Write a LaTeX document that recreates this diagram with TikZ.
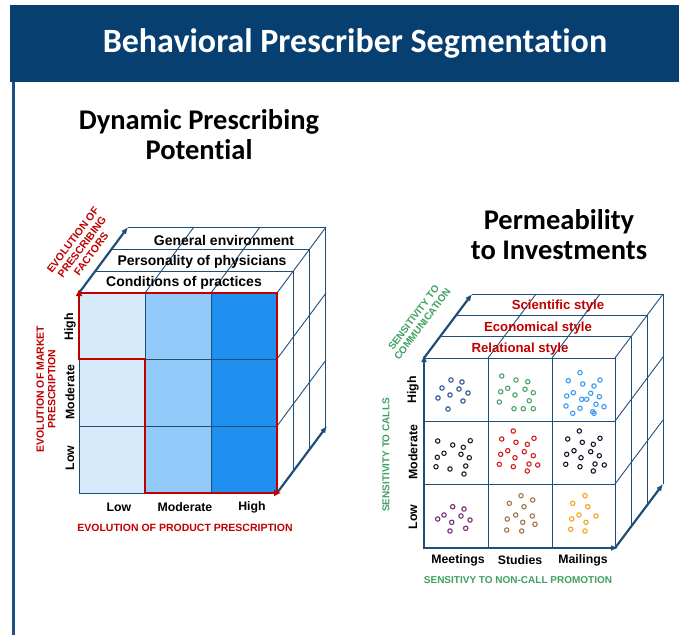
\documentclass[tikz,border=0pt]{standalone}
\usepackage{fontspec}
\setmainfont{Liberation Sans}
\newfontfamily\headfont[Ligatures=NoCommon]{Carlito}
\usepackage{xcolor}
\usetikzlibrary{arrows.meta}

\definecolor{headblue}{HTML}{073F70}
\definecolor{bordblue}{HTML}{1D5287}
\definecolor{navy}{HTML}{1F4E79}
\definecolor{redc}{HTML}{C00000}
\definecolor{greenc}{HTML}{3FA060}
\definecolor{cellA}{HTML}{D6EAFC}
\definecolor{cellB}{HTML}{92CBFA}
\definecolor{cellC}{HTML}{1F90F0}
\definecolor{dotA}{HTML}{2F5597}
\definecolor{dotB}{HTML}{4EA56C}
\definecolor{dotC}{HTML}{3D9BF0}
\definecolor{dotD}{HTML}{222222}
\definecolor{dotE}{HTML}{D42020}
\definecolor{dotF}{HTML}{1A1A2E}
\definecolor{dotG}{HTML}{7B2C7B}
\definecolor{dotH}{HTML}{A0784A}
\definecolor{dotI}{HTML}{F5A623}

\begin{document}
\begin{tikzpicture}[x=1pt,y=-1pt,
  every node/.style={inner sep=0pt, font=\bfseries\fontsize{12.3}{12.3}\selectfont},
  gridline/.style={navy, line width=0.9pt},
  axis/.style={navy, line width=2.2pt, -{Latex[length=7pt,width=6pt]}},
  redline/.style={redc, line width=2.4pt},
  layer/.style={font=\bfseries\fontsize{14}{14}\selectfont},
  redlayer/.style={font=\bfseries\fontsize{13.2}{13.2}\selectfont, text=redc},
  axlbl/.style={font=\bfseries\fontsize{10.5}{11.5}\selectfont, align=center},
  grnlbl/.style={font=\bfseries\fontsize{10}{11}\selectfont, align=center, text=greenc},
  dot/.style={line width=1.1pt}]
\useasboundingbox (0,0) rectangle (679,635);

% header band
\fill[headblue] (10,5) rectangle (679,82);
\draw[bordblue, line width=3pt] (13,82) -- (13,635);
\node[text=white, font=\headfont\bfseries\fontsize{34}{34}\selectfont] (title) at (355,43) {Behavioral Prescriber Segmentation};
\node[font=\headfont\bfseries\fontsize{28.5}{30}\selectfont, align=center] (dynhead) at (199,135) {Dynamic Prescribing\\Potential};
\node[font=\headfont\bfseries\fontsize{28.5}{30}\selectfont, align=center] (permhead) at (559,235) {Permeability\\to Investments};

% ---- left cube: dynamic prescribing potential
\fill[cellA] (79,293) rectangle (145,493);
\fill[cellB] (145,293) rectangle (211,493);
\fill[cellC] (211,293) rectangle (277,493);
\draw[gridline] (79,293) rectangle (277,493);
\foreach \x in {145,211} \draw[gridline] (\x,293) -- (\x,493);
\foreach \y in {359,426} \draw[gridline] (79,\y) -- (277,\y);
% top face
\foreach \k in {1,2,3} \draw[gridline] (79+16.3*\k,293-22*\k) -- (277+16.3*\k,293-22*\k);
\foreach \x in {145,211,277} \draw[gridline] (\x,293) -- ++(49,-66);
% right face
\foreach \k in {1,2,3} \draw[gridline] (277+16.3*\k,293-22*\k) -- (277+16.3*\k,493-22*\k);
\foreach \y in {359,426} \draw[gridline] (277,\y) -- ++(49,-66);
\draw[axis] (79,293) -- ++(49,-66);
\draw[axis] (277,493) -- ++(50,-67);
% red frontier
\draw[redline] (79,293) -- (277,293) -- (277,493);
\draw[redline, {Latex[length=7pt,width=7pt]}-{Latex[length=7pt,width=7pt]}] (79,289) -- (79,359) -- (145,359) -- (145,493) -- (281,493);

\node[layer] (general) at (224,240) {General environment};
\node[layer] (personal) at (202,262) {Personality of physicians};
\node[layer] (conditions) at (184,283) {Conditions of practices};

\node (lowX) at (119,507) {Low};
\node (modX) at (185,507) {Moderate};
\node (highX) at (252,507) {High};
\node[rotate=90] (highY) at (70,327) {High};
\node[rotate=90] (modY) at (70,392) {Moderate};
\node[rotate=90] (lowY) at (70,458) {Low};

\node[axlbl, text=redc] (prodaxis) at (185,528) {EVOLUTION OF PRODUCT PRESCRIPTION};
\node[axlbl, text=redc, rotate=90] (marketaxis) at (46,389) {EVOLUTION OF MARKET\\PRESCRIPTION};
\node[axlbl, text=redc, rotate=53] (factaxis) at (82,247) {EVOLUTION OF\\PRESCRIBING\\FACTORS};

% ---- right cube: permeability to investments
\draw[gridline] (424,358) rectangle (615,548);
\foreach \x in {488,552} \draw[gridline] (\x,358) -- (\x,548);
\foreach \y in {421,484} \draw[gridline] (424,\y) -- (615,\y);
% top face
\foreach \k in {1,2,3} \draw[gridline] (424+16*\k,358-21.3*\k) -- (615+16*\k,358-21.3*\k);
\foreach \x in {488,552,615} \draw[gridline] (\x,358) -- ++(48,-64);
% right face
\foreach \k in {1,2,3} \draw[gridline] (615+16*\k,358-21.3*\k) -- (615+16*\k,548-21.3*\k);
\foreach \y in {421,484} \draw[gridline] (615,\y) -- ++(48,-64);
\draw[axis] (424,549) -- (424,355);
\draw[axis] (423,548) -- (618,548);
\draw[axis] (424,358) -- ++(48,-64);
\draw[axis] (615,548) -- ++(48,-64);

\node[redlayer] (scient) at (558,306) {Scientific style};
\node[redlayer] (econ) at (538,328) {Economical style};
\node[redlayer] (relat) at (520,349) {Relational style};

\node (meet) at (458,560) {Meetings};
\node (stud) at (520,560) {Studies};
\node (mail) at (583,560) {Mailings};
\node[rotate=90] (highR) at (413,390) {High};
\node[rotate=90] (modR) at (413,452) {Moderate};
\node[rotate=90] (lowR) at (413,517) {Low};

\node[grnlbl] (noncall) at (518,580) {SENSITIVY TO NON-CALL PROMOTION};
\node[grnlbl, rotate=90] (calls) at (386,455) {SENSITIVITY TO CALLS};
\node[grnlbl, rotate=53] (commun) at (418,321) {SENSITIVITY TO\\COMMUNICATION};

% dots, high row
\begin{scope}[shift={(424,358)}, dotA]
  \foreach \p in {(27,22),(38,24),(18,30),(35,31),(26,37),(44,35),(14,40),(39,43),(24,51)}
    \draw[dot] \p circle (2.2pt);
\end{scope}
\begin{scope}[shift={(488,358)}, dotB]
  \foreach \p in {(13.7,18),(28,22),(39.7,23.7),(19.7,30.3),(12.7,33.7),(37,31.3),(27,37),(45.3,34.7),(11.3,44),(41.3,42.7),(26,50.7),(35.3,50.7),(45.3,50.7)}
    \draw[dot] \p circle (2.2pt);
\end{scope}
\begin{scope}[shift={(552,358)}, dotC]
  \foreach \p in {(28,14.7),(16.3,22.7),(30.7,26),(48,22),(42,28),(21.3,34.7),(38.7,35.3),(14.7,38),(29.7,41.3),(34.7,41.3),(47.3,38.7),(44,46.3),(14,48),(28,50.3),(52,48.7),(20.7,55.3),(40.7,53.7),(42,55.3)}
    \draw[dot] \p circle (2.2pt);
\end{scope}
% dots, moderate row
\begin{scope}[shift={(424,421)}, dotD]
  \foreach \p in {(13.7,20),(28.7,24),(46.3,19.7),(39.3,26.3),(20,32.3),(13.3,36.3),(37,33.3),(45.3,36.7),(12,45.7),(26,48),(41.7,45),(40,53)}
    \draw[dot] \p circle (2.2pt);
\end{scope}
\begin{scope}[shift={(488,421)}, dotE]
  \foreach \p in {(25.3,10),(13.7,18),(28,21.3),(39.3,23.3),(46,17.3),(19.7,29.7),(12.7,33.3),(36.3,30.7),(27,36.7),(45.3,34.7),(11.3,43.3),(25.3,45.7),(41,43),(49.7,44),(39.3,50)}
    \draw[dot] \p circle (2.2pt);
\end{scope}
\begin{scope}[shift={(552,421)}, dotF]
  \foreach \p in {(27.3,10),(15.7,18),(30.3,21.3),(41.3,23.3),(48,17.3),(22,29.7),(14.7,33.3),(38.7,30.7),(29,36.7),(47.3,34.7),(13.7,43.3),(28,45.7),(43,43),(52.3,44),(41.3,50)}
    \draw[dot] \p circle (2.2pt);
\end{scope}
% dots, low row
\begin{scope}[shift={(424,484)}, dotG]
  \foreach \p in {(28.7,22.7),(40,25),(20,31),(13.7,35),(37,32),(27.7,38.3),(46,36),(41.7,44.3),(26,47)}
    \draw[dot] \p circle (2.2pt);
\end{scope}
\begin{scope}[shift={(488,484)}, dotH]
  \foreach \p in {(33,11.7),(21.3,19.3),(44.7,16),(36,22.7),(27.7,31),(19.3,35),(44.3,32),(34.7,38.3),(47,40.3),(18.7,46),(33.7,47)}
    \draw[dot] \p circle (2.2pt);
\end{scope}
\begin{scope}[shift={(552,484)}, dotI]
  \foreach \p in {(33,11.7),(20.7,19.3),(35.7,22.7),(27,31),(44,32),(19.7,35),(34,38.3),(18.7,45.3),(33,47)}
    \draw[dot] \p circle (2.2pt);
\end{scope}
\end{tikzpicture}
\end{document}
